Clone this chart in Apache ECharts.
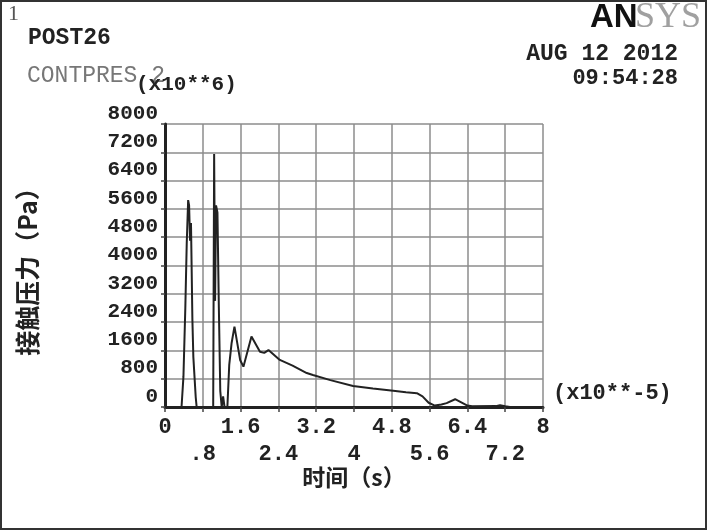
<!DOCTYPE html>
<html>
<head>
<meta charset="utf-8">
<script src="https://cdn.jsdelivr.net/npm/echarts@6/dist/echarts.min.js"></script>
<style>
html,body{margin:0;padding:0;background:#fff;}
#chart{width:710px;height:531px;}
</style>
</head>
<body>
<div id="chart"></div>
<script>
// time in units of 1e-5 s, contact pressure in axis units (x10**6)
const timeValues = [0, 0.35, 0.38, 0.39, 0.43, 0.46, 0.49, 0.51, 0.53, 0.55, 0.58, 0.60, 0.65, 0.67,
  1.02, 1.04, 1.06, 1.08, 1.11, 1.14, 1.17, 1.20, 1.23, 1.26, 1.32, 1.36, 1.41, 1.47, 1.59, 1.66,
  1.83, 2.01, 2.10, 2.19, 2.43, 2.70, 3.00, 3.13, 3.50, 3.98, 4.40, 4.83, 5.10, 5.33, 5.45, 5.58,
  5.71, 5.85, 5.96, 6.14, 6.30, 6.40, 6.50, 7.00, 7.09, 7.20, 7.30];
const pressureValues = [0, 0, 0, 850, 2800, 4630, 5850, 5700, 4700, 5200, 2460, 1410, 280, 0,
  0, 7150, 3000, 5700, 5500, 2800, 450, 0, 300, 0, 0, 1200, 1810, 2270, 1330, 1140,
  1990, 1560, 1530, 1610, 1330, 1170, 960, 905, 760, 594, 520, 460, 420, 390, 300, 120,
  40, 70, 110, 220, 110, 40, 20, 25, 50, 20, 0];
const xTickLabels = ['0', '.8', '1.6', '2.4', '3.2', '4', '4.8', '5.6', '6.4', '7.2', '8'];
const yTickLabels = ['0', '800', '1600', '2400', '3200', '4000', '4800', '5600', '6400', '7200', '8000'];

const monoFont = '"Liberation Mono", "DejaVu Sans Mono", monospace';
const cjkFont = '"Noto Sans CJK SC", sans-serif';

const chart = echarts.init(document.getElementById('chart'));
const seriesData = timeValues.map((t, i) => [t, pressureValues[i]]);

chart.setOption({
  animation: false,
  backgroundColor: '#fff',
  grid: {left: 165, top: 124, right: 167, bottom: 124, containLabel: false, outerBoundsMode: 'none'},
  xAxis: {
    type: 'value', min: 0, max: 8, interval: 0.8,
    axisLine: {show: true, onZero: false, lineStyle: {color: '#222', width: 3}},
    axisTick: {show: true, length: 5, lineStyle: {color: '#444', width: 1.5}},
    splitLine: {show: true, lineStyle: {color: '#8c8c8c', width: 1.5}},
    axisLabel: {
      color: '#222', fontFamily: monoFont, fontWeight: 'bold', fontSize: 22,
      lineHeight: 27, margin: 7, showMinLabel: true, showMaxLabel: true,
      formatter: function (v) {
        const i = Math.round(v / 0.8);
        return i % 2 ? '\n' + xTickLabels[i] : xTickLabels[i];
      }
    },
    name: '时间（s）', nameLocation: 'middle', nameGap: 59, nameMoveOverlap: false,
    nameTextStyle: {color: '#222', fontFamily: cjkFont, fontWeight: 'bold', fontSize: 23}
  },
  yAxis: {
    type: 'value', min: 0, max: 8000, interval: 800,
    axisLine: {show: true, lineStyle: {color: '#222', width: 3}},
    axisTick: {show: true, length: 4, lineStyle: {color: '#444', width: 1.5}},
    splitLine: {show: true, lineStyle: {color: '#8c8c8c', width: 1.5}},
    axisLabel: {
      color: '#222', fontFamily: monoFont, fontWeight: 'bold', fontSize: 21,
      margin: 7, verticalAlign: 'bottom', showMinLabel: true, showMaxLabel: true,
      formatter: function (v) { return yTickLabels[Math.round(v / 800)]; }
    },
    name: '接触压力（Pa）', nameLocation: 'middle', nameGap: 125, nameRotate: 90, nameMoveOverlap: false,
    nameTextStyle: {color: '#222', fontFamily: cjkFont, fontWeight: 'bold', fontSize: 25}
  },
  series: [{
    type: 'line', data: seriesData, showSymbol: false, smooth: false,
    lineStyle: {color: '#222', width: 2}
  }],
  graphic: [
    {type: 'rect', shape: {x: 1, y: 1, width: 705, height: 528}, style: {fill: 'none', stroke: '#333', lineWidth: 2}, silent: true},
    {type: 'text', left: 8, top: 3, style: {text: '1', font: '22px "Liberation Serif", serif', fill: '#555'}},
    {type: 'text', left: 28, top: 27, style: {text: 'POST26', font: 'bold 23px ' + monoFont, fill: '#222'}},
    {type: 'text', left: 27, top: 64, style: {text: 'CONTPRES 2', font: '23px ' + monoFont, fill: '#777'}},
    {type: 'text', left: 136, top: 74, style: {text: '(x10**6)', font: 'bold 21px ' + monoFont, fill: '#222'}},
    {type: 'text', left: 553, top: 382, style: {text: '(x10**-5)', font: 'bold 22px ' + monoFont, fill: '#222'}},
    {type: 'text', right: 32, top: 43, style: {text: 'AUG 12 2012', font: 'bold 23px ' + monoFont, fill: '#222', textAlign: 'right'}},
    {type: 'text', right: 32, top: 67, style: {text: '09:54:28', font: 'bold 22px ' + monoFont, fill: '#222', textAlign: 'right'}},
    {type: 'text', left: 590, top: 1, style: {text: 'AN', font: '900 33px "Liberation Sans", "DejaVu Sans", sans-serif', fill: '#111'}},
    {type: 'text', left: 635, top: 0, style: {text: 'SYS', font: '36px "Liberation Serif", serif', fill: '#a0a0a0'}}
  ]
});
</script>
</body>
</html>
